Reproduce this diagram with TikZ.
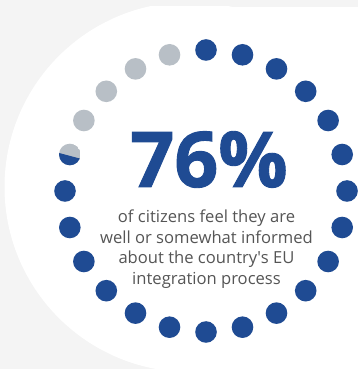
\documentclass[tikz,border=0pt]{standalone}
\usepackage{fontspec}
\setmainfont{Open Sans}
\definecolor{bgcol}{HTML}{F4F4F4}
\definecolor{dotblue}{HTML}{1F4B93}
\definecolor{dotgray}{HTML}{B8BFC6}
\definecolor{txtgray}{HTML}{555555}
\tikzset{
  bluedot/.style={fill=dotblue},
  graydot/.style={fill=dotgray},
  bodyline/.style={anchor=base, inner sep=0pt, text=txtgray, font=\fontsize{16.6}{20}\selectfont},
  bignum/.style={anchor=base, inner sep=0pt, text=dotblue, font=\fontsize{77}{80}\selectfont\bfseries\addfontfeature{FakeBold=1.2}}
}
\begin{document}
\begin{tikzpicture}[x=1pt,y=1pt]
\useasboundingbox (0,0) rectangle (358,369);
\fill[bgcol] (0,0) rectangle (358,369);
\begin{scope}
  \clip (0,0) rectangle (358,362);
  \fill[white] (189.5,182) circle (185);
  \fill[white] (189.5,-5) rectangle (358,362);
\end{scope}
% dots
\foreach \k in {0,...,23}{
  \coordinate (d\k) at ({206+141*cos(90-15*\k)},{178+141*sin(90-15*\k)});
}
\foreach \k in {0,...,18}{
  \fill[bluedot] (d\k) circle (10.8);
}
\foreach \k in {20,...,23}{
  \fill[graydot] (d\k) circle (10.8);
}
\begin{scope}
  \clip (d19) circle (10.8);
  \fill[graydot] (d19) circle (10.8);
  \begin{scope}[shift={(d19)}, rotate=-15]
    \fill[bluedot] (-15,-1.3) rectangle (15,-15);
  \end{scope}
\end{scope}
% text
\node[bignum] (num) at (209,182) {76\%};
\node[bodyline] (l1) at (206.5,146) {of citizens feel they are};
\node[bodyline] (l2) at (206.5,125.5) {well or somewhat informed};
\node[bodyline] (l3) at (206.5,105) {about the country\textquotesingle s EU};
\node[bodyline] (l4) at (206.5,84.5) {integration process};
\end{tikzpicture}
\end{document}
